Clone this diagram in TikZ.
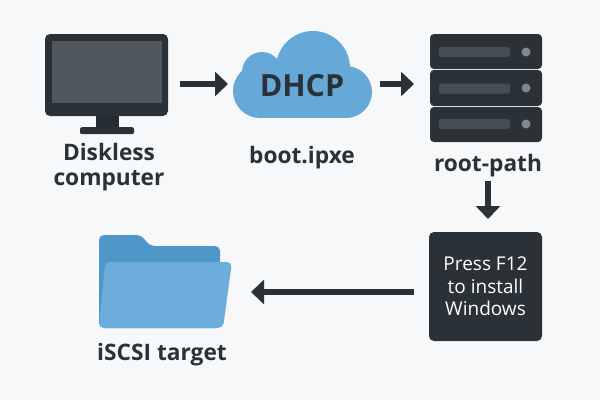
\documentclass[tikz,border=0pt]{standalone}
\usepackage{fontspec}
\setmainfont{Open Sans}
\usetikzlibrary{arrows.meta}

\definecolor{paper}{HTML}{F7F8FA}
\definecolor{dark}{HTML}{2A3238}
\definecolor{screen}{HTML}{50585D}
\definecolor{slot}{HTML}{464E53}
\definecolor{led}{HTML}{80898E}
\definecolor{skyblue}{HTML}{66A9D9}
\definecolor{folderback}{HTML}{4F97C9}
\definecolor{folderfront}{HTML}{6CADDC}

\begin{document}
\begin{tikzpicture}[
    x=1pt, y=-1pt,
    flow/.style={-{Triangle[length=13pt,width=24pt]},line width=6.5pt,draw=dark},
    plate/.style={
        rectangle,
        fill=dark,
        rounded corners=4pt,
        minimum width=112pt,
        inner sep=0pt
    },
    slot bar/.style={rectangle,fill=slot,rounded corners=1.5pt,minimum width=71pt,minimum height=10pt,inner sep=0pt},
    led dot/.style={circle,fill=led,minimum size=9pt,inner sep=0pt},
    caption/.style={
        font=\fontsize{22.7}{25}\selectfont\bfseries,
        text=dark,
        align=center,
        inner sep=0pt
    }
]

% Page
\fill[paper] (0,0) rectangle (600,400);
\useasboundingbox (0,0) rectangle (600,400);

% Monitor
\node[rectangle, fill=dark, rounded corners=5pt, minimum width=123pt, minimum height=82pt, inner sep=0pt] (monitor) at (106.5,75) {};
\node[rectangle, fill=screen, minimum width=110pt, minimum height=62pt, inner sep=0pt] (display) at (107,72) {};
\node[rectangle, fill=dark!90!black, minimum width=23pt, minimum height=11pt, inner sep=0pt, anchor=north] (neck) at (107.5,116) {};
\node[rectangle, fill=dark, rounded corners=2pt, minimum width=54pt, minimum height=7pt, inner sep=0pt, anchor=north] (foot) at (107,127) {};
\node[caption] (diskless) at (109,167.5) {Diskless\\computer};

% Cloud
\fill[skyblue] (260,91) circle (27) (262,72) circle (20) (313,68) circle (37) (346,92) circle (26);
\fill[skyblue] (260,80) rectangle (346,118);
\node[font=\fontsize{30.5}{32}\selectfont\bfseries, text=dark, inner sep=0pt] (dhcp) at (302,85.5) {DHCP};
\node[caption, anchor=base] (bootfile) at (302,163) {boot.ipxe};

% Server rack
\node[plate, minimum height=35pt] (rackone) at (486,51.5) {};
\node[plate, minimum height=36pt] (racktwo) at (486,88) {};
\node[plate, minimum height=35pt] (rackthree) at (486,124.5) {};
\node[slot bar] (slotone) at (474.5,52) {};
\node[slot bar] (slottwo) at (474.5,88.5) {};
\node[slot bar] (slotthree) at (474.5,124) {};
\node[led dot] (ledone) at (526,52) {};
\node[led dot] (ledtwo) at (526,88) {};
\node[led dot] (ledthree) at (526,124) {};
\node[caption, anchor=base] (rootpath) at (488,171) {root-path};

% Prompt box
\node[plate, rounded corners=5pt, minimum width=113pt, minimum height=109pt, text=white, align=center,
    font=\fontsize{19}{22.5}\selectfont] (prompt) at (485.5,286.5) {Press F12\\to install\\Windows};

% Folder
\fill[folderback, rounded corners=5pt] (99,328) -- (99,235) -- (141,235) -- (150,246) -- (220,246) -- (220,328) -- cycle;
\fill[folderfront, rounded corners=5pt] (99,328) -- (105,262) -- (232,262) -- (223,328) -- cycle;
\node[caption, anchor=base] (target) at (162,360) {iSCSI target};

% Free ends of the arrows
\coordinate (monitorout) at (180,84);
\coordinate (cloudin) at (228,84);
\coordinate (cloudout) at (380,84);
\coordinate (rackin) at (414,84);
\coordinate (rackout) at (488,181);
\coordinate (promptin) at (488,219);
\coordinate (promptout) at (414,292);
\coordinate (folderin) at (251,292);

% Arrows
\draw[flow] (monitorout) -- (cloudin);
\draw[flow] (cloudout) -- (rackin);
\draw[flow] (rackout) -- (promptin);
\draw[flow] (promptout) -- (folderin);

\end{tikzpicture}
\end{document}
